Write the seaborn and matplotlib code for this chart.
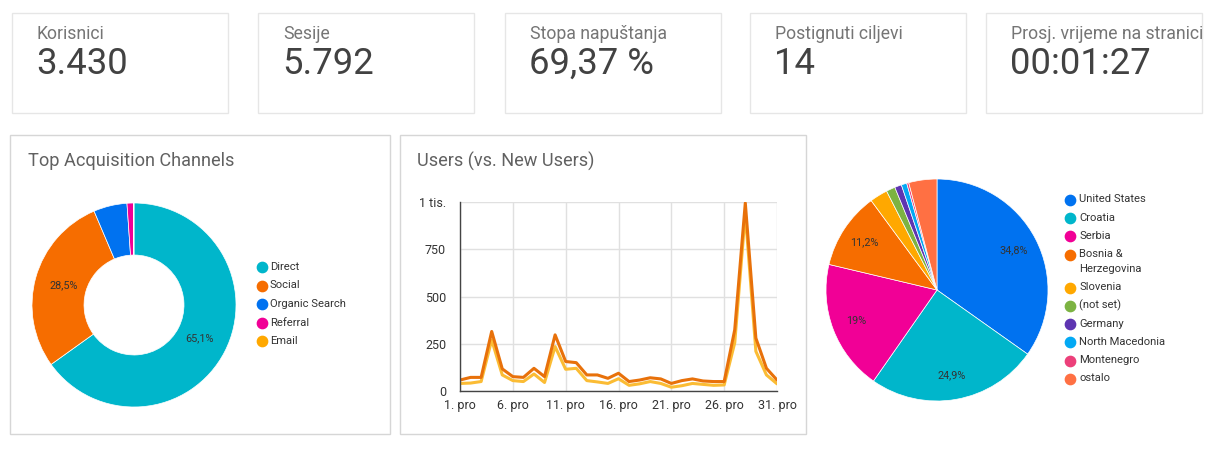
import pandas as pd
import matplotlib.pyplot as plt
import seaborn as sns
from matplotlib.patches import Rectangle
from matplotlib.ticker import FixedLocator

# KPI cards
kpi_labels = ['Korisnici', 'Sesije', 'Stopa napuštanja', 'Postignuti ciljevi', 'Prosj. vrijeme na stranici']
kpi_values = ['3.430', '5.792', '69,37 %', '14', '00:01:27']

# acquisition channels (donut)
channels = ['Direct', 'Social', 'Organic Search', 'Referral', 'Email']
channel_share = [65.1, 28.5, 5.3, 1.0, 0.1]
channel_colors = ['#00B6CB', '#F66D00', '#0072F0', '#F10096', '#FFA800']

# users vs new users per day in December
days = list(range(1, 32))
users = [58, 72, 72, 315, 117, 76, 72, 120, 76, 297, 156, 150, 85, 85, 67, 94,
         50, 58, 70, 64, 40, 55, 64, 53, 50, 50, 324, 995, 280, 120, 58]
new_users = [40, 42, 50, 270, 85, 55, 50, 90, 45, 235, 115, 120, 55, 48, 40, 65,
             30, 38, 50, 40, 20, 28, 40, 35, 30, 32, 255, 940, 210, 85, 38]
x_ticks = [1, 6, 11, 16, 21, 26, 31]
x_tick_labels = ['1. pro', '6. pro', '11. pro', '16. pro', '21. pro', '26. pro', '31. pro']
y_ticks = [0, 250, 500, 750, 1000]
y_tick_labels = ['0', '250', '500', '750', '1 tis.']

# countries (pie)
countries = ['United States', 'Croatia', 'Serbia', 'Bosnia &\nHerzegovina', 'Slovenia',
             '(not set)', 'Germany', 'North Macedonia', 'Montenegro', 'ostalo']
country_share = [34.8, 24.9, 19.0, 11.2, 2.6, 1.3, 1.0, 0.8, 0.3, 4.1]
country_colors = ['#0072F0', '#00B6CB', '#F10096', '#F66D00', '#FFA800',
                  '#7CB342', '#5E35B1', '#03A9F4', '#EC407A', '#FF7043']

W, H = 1211, 450

sns.set_theme(style='white')
plt.rcParams['font.family'] = ['Roboto', 'DejaVu Sans']

fig = plt.figure(figsize=(W / 100, H / 100), dpi=100)
fig.patch.set_facecolor('white')


def px_axes(left, top, right, bottom, **kw):
    return fig.add_axes([left / W, 1 - bottom / H, (right - left) / W, (bottom - top) / H], **kw)


# background layer in pixel coordinates
bg = fig.add_axes([0, 0, 1, 1])
bg.set_xlim(0, W)
bg.set_ylim(H, 0)
bg.axis('off')

card_lefts = [12, 258, 505, 750, 986]
for left, lab, val in zip(card_lefts, kpi_labels, kpi_values):
    bg.add_patch(Rectangle((left, 13), 216, 100, fill=False, ec='#E6E6E6', lw=1))
    bg.text(left + 25, 34, lab, fontsize=12.7, color='#757575', va='center')
    bg.text(left + 24, 64, val, fontsize=26.3, color='#424242', va='center')

bg.add_patch(Rectangle((10, 135), 380, 299, fill=False, ec='#D6D6D6', lw=1))
bg.add_patch(Rectangle((400, 135), 406, 299, fill=False, ec='#D6D6D6', lw=1))
bg.text(28, 161, 'Top Acquisition Channels', fontsize=13.1, color='#616161', va='center')
bg.text(417, 161, 'Users (vs. New Users)', fontsize=13.1, color='#616161', va='center')


def pct_fmt(p):
    if p < 8:
        return ''
    s = f'{p:.1f}'
    if s.endswith('.0'):
        s = s[:-2]
    return s.replace('.', ',') + '%'


# donut
ax_d = px_axes(32, 203, 236, 407)
wedges, _, autotexts = ax_d.pie(channel_share, colors=channel_colors, startangle=90,
                                counterclock=False, autopct=pct_fmt, pctdistance=0.72,
                                wedgeprops=dict(width=0.51, edgecolor='white', linewidth=0.5))
for t in autotexts:
    t.set_fontsize(7.8)
    t.set_color('#333333')
ax_d.set_xlim(-1, 1)
ax_d.set_ylim(-1, 1)

for i, (name, col) in enumerate(zip(channels, channel_colors)):
    y = 267 + i * 18.5
    bg.scatter(262, y, s=55, color=col, zorder=3)
    bg.text(270, y, name, fontsize=8.1, color='#333333', va='center')

# line chart
ax_l = px_axes(460, 202, 777, 391)
df = pd.DataFrame({
    'day': days * 2,
    'value': new_users + users,
    'series': ['New Users'] * len(days) + ['Users'] * len(days),
})
sns.lineplot(data=df, x='day', y='value', hue='series', ax=ax_l,
             palette={'New Users': '#FBBC34', 'Users': '#E8710A'}, linewidth=2.2, legend=False)
ax_l.set_xlim(1, 31)
ax_l.set_ylim(0, 1000)
ax_l.xaxis.set_major_locator(FixedLocator(x_ticks))
ax_l.set_xticklabels(x_tick_labels)
ax_l.yaxis.set_major_locator(FixedLocator(y_ticks))
ax_l.set_yticklabels(y_tick_labels)
ax_l.set_xlabel('')
ax_l.set_ylabel('')
ax_l.grid(True, color='#E0E0E0', lw=1)
ax_l.set_axisbelow(True)
for s in ['top', 'right']:
    ax_l.spines[s].set_visible(False)
for s in ['left', 'bottom']:
    ax_l.spines[s].set_color('#444444')
    ax_l.spines[s].set_linewidth(1)
ax_l.tick_params(axis='both', length=0, labelsize=9, colors='#333333')
ax_l.tick_params(axis='y', pad=10)
ax_l.tick_params(axis='x', pad=6)
ax_l.set_facecolor('none')

# country pie
ax_p = px_axes(826, 179, 1048, 401)
_, _, ptexts = ax_p.pie(country_share, colors=country_colors, startangle=90,
                        counterclock=False, autopct=pct_fmt, pctdistance=0.78,
                        wedgeprops=dict(edgecolor='white', linewidth=0.5))
for t in ptexts:
    t.set_fontsize(7.8)
    t.set_color('#333333')
ax_p.set_xlim(-1, 1)
ax_p.set_ylim(-1, 1)

y = 200
for name, col in zip(countries, country_colors):
    bg.scatter(1070, y, s=55, color=col, zorder=3)
    bg.text(1079, y - 0.5, name.split('\n')[0], fontsize=8.1, color='#333333', va='center')
    if '\n' in name:
        y += 15
        bg.text(1079, y - 0.5, name.split('\n')[1], fontsize=8.1, color='#333333', va='center')
    y += 18.2

fig.savefig('out.png', dpi=100)
